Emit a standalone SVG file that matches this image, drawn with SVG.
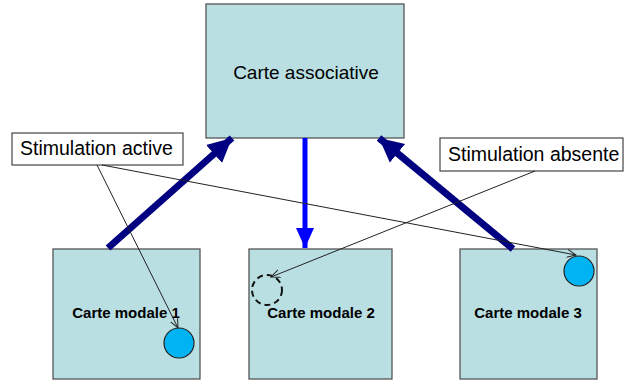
<svg xmlns="http://www.w3.org/2000/svg" width="624" height="381" viewBox="0 0 624 381">
<defs>
<style>
.box{fill:#B9DFE3;stroke:#555;stroke-width:1.3}
.lbl{fill:#fff;stroke:#444;stroke-width:1.2}
.t{font-family:"Liberation Sans",Arial,sans-serif;fill:#000}
.dot{fill:#00B4F4;stroke:#222;stroke-width:1.2}
.thin{stroke:#222;stroke-width:1;fill:none}
</style>
<marker id="navyHead" markerUnits="userSpaceOnUse" markerWidth="28" markerHeight="26" refX="24" refY="12" orient="auto" viewBox="0 0 28 24">
<path d="M0,0 L24,12 L0,24 Z" fill="#000080"/>
</marker>
<marker id="blueHead" markerUnits="userSpaceOnUse" markerWidth="24" markerHeight="20" refX="20" refY="9" orient="auto" viewBox="0 0 24 18">
<path d="M0,0 L20,9 L0,18 Z" fill="#0000FF"/>
</marker>
<marker id="open" markerUnits="userSpaceOnUse" markerWidth="12" markerHeight="10" refX="9" refY="5" orient="auto" viewBox="0 0 12 10">
<path d="M0,1 L9,5 L0,9" fill="none" stroke="#222" stroke-width="1"/>
</marker>
</defs>
<g id="carte-associative">
<rect class="box" x="206" y="4" width="198" height="134"/>
<text class="t" x="306" y="79" font-size="19" text-anchor="middle">Carte associative</text>
</g>
<g id="carte-modale-1">
<rect class="box" x="53" y="249" width="147" height="130"/>
<text class="t" x="126" y="318" font-size="15" font-weight="bold" text-anchor="middle">Carte modale 1</text>
<circle class="dot" cx="179" cy="343" r="15"/>
</g>
<g id="carte-modale-2">
<rect class="box" x="249" y="249" width="143" height="130"/>
<text class="t" x="321" y="318" font-size="15" font-weight="bold" text-anchor="middle">Carte modale 2</text>
<circle cx="267" cy="290" r="15" fill="none" stroke="#111" stroke-width="2" stroke-dasharray="6,4"/>
</g>
<g id="carte-modale-3">
<rect class="box" x="460" y="249" width="137" height="130"/>
<text class="t" x="528" y="318" font-size="15" font-weight="bold" text-anchor="middle">Carte modale 3</text>
<circle class="dot" cx="579" cy="271" r="15"/>
</g>
<g id="stimulation-active">
<rect class="lbl" x="12" y="133" width="171" height="32"/>
<text class="t" x="20" y="155" font-size="19.5">Stimulation active</text>
</g>
<g id="stimulation-absente">
<rect class="lbl" x="440" y="138" width="183" height="33"/>
<text class="t" x="448" y="161" font-size="19.5">Stimulation absente</text>
</g>
<g id="connectors">
<line x1="108" y1="248" x2="232" y2="138" stroke="#000080" stroke-width="7" marker-end="url(#navyHead)"/>
<line x1="513" y1="249" x2="379" y2="138" stroke="#000080" stroke-width="7" marker-end="url(#navyHead)"/>
<line x1="305" y1="138" x2="305" y2="248" stroke="#0000FF" stroke-width="5" marker-end="url(#blueHead)"/>
<line class="thin" x1="97" y1="165" x2="178" y2="328" marker-end="url(#open)"/>
<line class="thin" x1="102" y1="165" x2="576" y2="255" marker-end="url(#open)"/>
<line class="thin" x1="535" y1="171" x2="271" y2="277" marker-end="url(#open)"/>
</g>
</svg>
